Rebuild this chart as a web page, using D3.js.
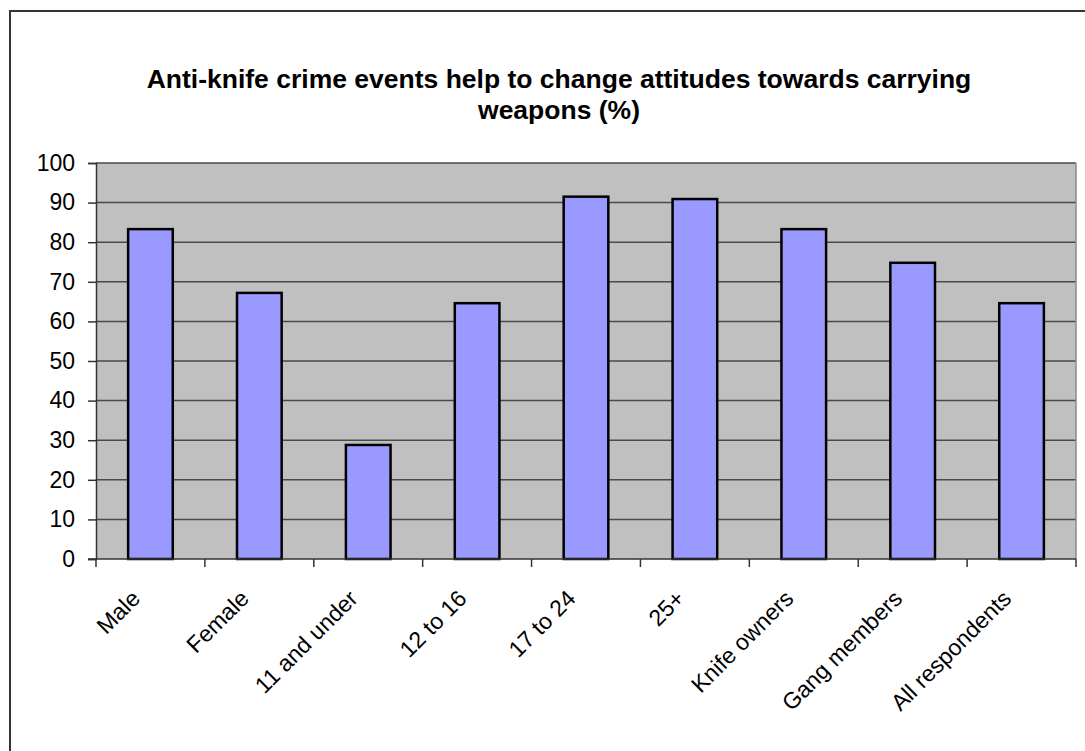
<!DOCTYPE html>
<html><head><meta charset="utf-8">
<script src="https://cdnjs.cloudflare.com/ajax/libs/d3/7.8.5/d3.min.js"></script>
<style>
html,body{margin:0;padding:0;background:#fff;overflow:hidden;}
svg{display:block;}
text{font-family:"Liberation Sans",Arial,sans-serif;fill:#000;}
</style></head>
<body>
<svg id="chart" width="1085" height="751"></svg>
<script>
const categories = ["Male","Female","11 and under","12 to 16","17 to 24","25+","Knife owners","Gang members","All respondents"];
const values = [83.3, 67.2, 28.8, 64.6, 91.5, 90.9, 83.3, 74.8, 64.6];
const yTicks = [0,10,20,30,40,50,60,70,80,90,100];
const titleLines = ["Anti-knife crime events help to change attitudes towards carrying","weapons (%)"];

const svg = d3.select("#chart");
const plot = {left:96, right:1076, top:163, bottom:559};

// chart border (extends beyond the visible frame on right/bottom)
svg.append("rect").attr("x",10).attr("y",11).attr("width",1200).attr("height",900)
  .attr("fill","#fff").attr("stroke","#333").attr("stroke-width",2);

const x = d3.scaleBand().domain(categories).range([plot.left, plot.right]).paddingInner(0.59).paddingOuter(0.295);
const xb = d3.scaleBand().domain(categories).range([plot.left, plot.right]);
const y = d3.scaleLinear().domain([0,100]).range([plot.bottom, plot.top]);

svg.append("rect").attr("x",plot.left).attr("y",plot.top)
  .attr("width",plot.right-plot.left).attr("height",plot.bottom-plot.top).attr("fill","#C0C0C0");

// gridlines
svg.append("g").selectAll("line").data(yTicks.filter(d=>d>0)).join("line")
  .attr("x1",plot.left).attr("x2",plot.right)
  .attr("y1",d=>y(d)).attr("y2",d=>y(d))
  .attr("stroke","#4a4a4a").attr("stroke-width",1.5);

// right edge of plot
svg.append("line").attr("x1",plot.right).attr("x2",plot.right).attr("y1",plot.top).attr("y2",plot.bottom)
  .attr("stroke","#8a8a8a").attr("stroke-width",1.5);

// bars
svg.append("g").selectAll("rect").data(categories).join("rect")
  .attr("x",d=>x(d)).attr("width",x.bandwidth())
  .attr("y",(d,i)=>y(values[i])).attr("height",(d,i)=>y(0)-y(values[i]))
  .attr("fill","#9999FF").attr("stroke","#000").attr("stroke-width",2.5);

// y axis
const yAxis = d3.axisLeft(y).tickValues(yTicks).tickSize(8).tickPadding(13);
const gy = svg.append("g").attr("transform",`translate(${plot.left},0)`).call(yAxis);
gy.select(".domain").attr("stroke","#333").attr("stroke-width",1.5);
gy.selectAll(".tick line").attr("stroke","#333").attr("stroke-width",1.5);
gy.selectAll(".tick text").attr("font-size","23px").attr("font-family","Liberation Sans, Arial, sans-serif").attr("fill","#000");

// x axis line and ticks at band boundaries
const bounds = categories.map(c=>xb(c)).concat([plot.right]);
svg.append("line").attr("x1",plot.left-8).attr("x2",plot.right).attr("y1",plot.bottom).attr("y2",plot.bottom)
  .attr("stroke","#333").attr("stroke-width",1.5);
svg.append("g").selectAll("line").data(bounds).join("line")
  .attr("x1",d=>d).attr("x2",d=>d).attr("y1",plot.bottom).attr("y2",plot.bottom+8)
  .attr("stroke","#333").attr("stroke-width",1.5);

// x labels
svg.append("g").selectAll("text").data(categories).join("text")
  .attr("transform",d=>`translate(${xb(d)+xb.bandwidth()/2-9},${plot.bottom+41}) rotate(-45)`)
  .attr("text-anchor","end").attr("font-size","23px").text(d=>d);

// title
svg.append("g").selectAll("text").data(titleLines).join("text")
  .attr("x",559).attr("y",(d,i)=>88+i*31).attr("text-anchor","middle")
  .attr("font-size","26.5px").attr("font-weight","bold").text(d=>d);
</script>
</body></html>
